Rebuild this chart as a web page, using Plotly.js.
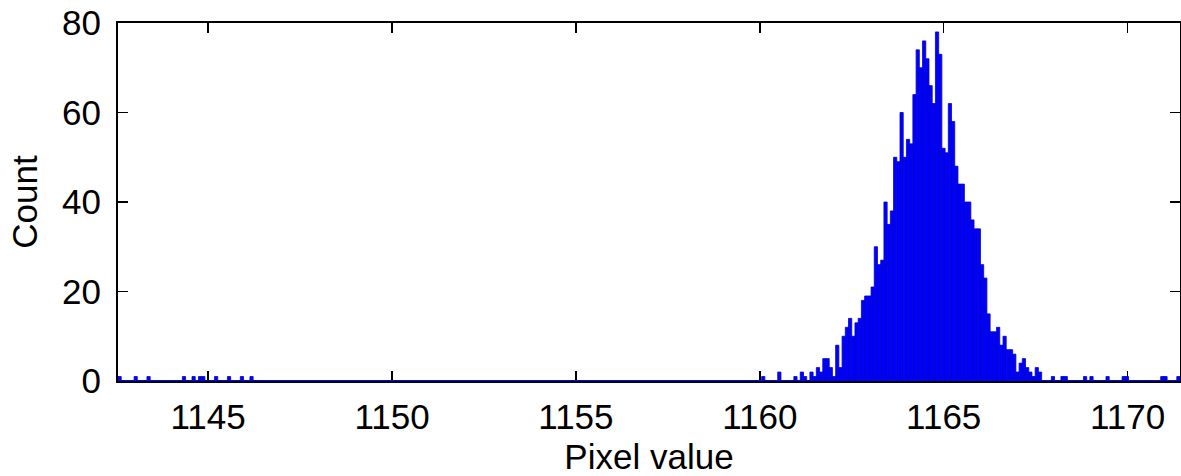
<!DOCTYPE html>
<html>
<head>
<meta charset="utf-8">
<script src="https://cdn.plot.ly/plotly-3.0.1.min.js"></script>
<style>
  html, body { margin: 0; padding: 0; background: #ffffff; }
  #chart { width: 1181px; height: 476px; }
</style>
</head>
<body>
<div id="chart"></div>
<script>
// Histogram bins with non-zero counts (bin centre pixel value, count)
const pixelValues = [
  1142.594, 1143.031, 1143.381, 1144.344, 1144.606, 1144.781, 1144.869, 1145.219, 1145.569, 1145.919, 1146.181,
  1160.094, 1160.531, 1160.969, 1161.144, 1161.231, 1161.406, 1161.494, 1161.581, 1161.669, 1161.756,
  1161.844, 1161.931, 1162.019, 1162.106, 1162.194, 1162.281, 1162.369, 1162.456, 1162.544, 1162.631,
  1162.719, 1162.806, 1162.894, 1162.981, 1163.069, 1163.156, 1163.244, 1163.331, 1163.419, 1163.506,
  1163.594, 1163.681, 1163.769, 1163.856, 1163.944, 1164.031, 1164.119, 1164.206, 1164.294, 1164.381,
  1164.469, 1164.556, 1164.644, 1164.731, 1164.819, 1164.906, 1164.994, 1165.081, 1165.169, 1165.256,
  1165.344, 1165.431, 1165.519, 1165.606, 1165.694, 1165.781, 1165.869, 1165.956, 1166.044, 1166.131,
  1166.219, 1166.306, 1166.394, 1166.481, 1166.569, 1166.656, 1166.744, 1166.831, 1166.919, 1167.006,
  1167.094, 1167.181, 1167.269, 1167.356, 1167.444, 1167.531, 1167.619, 1167.969,
  1168.231, 1168.319, 1168.844, 1169.019, 1169.456, 1169.894, 1169.981, 1170.944, 1171.031, 1171.381
];
const counts = [
  1, 1, 1, 1, 1, 1, 1, 1, 1, 1, 1,
  1, 2, 1, 2, 1, 2, 1, 3, 2, 5,
  5, 3, 1, 8, 3, 10, 12, 14, 10, 13,
  14, 18, 19, 19, 21, 30, 26, 27, 40, 35,
  38, 50, 49, 60, 50, 54, 53, 64, 74, 70,
  76, 72, 66, 62, 78, 73, 52, 51, 62, 58,
  48, 44, 44, 40, 40, 36, 34, 34, 26, 23,
  15, 11, 11, 12, 8, 10, 7, 7, 6, 2,
  4, 5, 3, 2, 1, 3, 2, 1,
  1, 1, 1, 1, 1, 1, 1, 1, 1, 1
];
const xRange = [1142.55, 1171.425];
const yRange = [0, 80];
const xTicks = [1145, 1150, 1155, 1160, 1165, 1170];
const yTicks = [0, 20, 40, 60, 80];
const binWidth = 0.0875;

const fontFamily = 'Liberation Sans, Arial, Helvetica, sans-serif';

const traces = [
  {
    type: 'bar',
    x: pixelValues,
    y: counts,
    width: binWidth,
    marker: { color: '#0000ff', line: { color: '#0000c8', width: 0.8 } },
    cliponaxis: false,
    hoverinfo: 'x+y',
    showlegend: false
  },
  {
    // zero-count bins drawn as a flat baseline, as in the source histogram
    type: 'scatter',
    mode: 'lines',
    x: [xRange[0], xRange[1]],
    y: [0, 0],
    line: { color: '#0000ff', width: 2 },
    cliponaxis: false,
    hoverinfo: 'skip',
    showlegend: false
  }
];

const axisCommon = {
  showline: true, mirror: 'ticks', linecolor: '#000000', linewidth: 2,
  ticks: 'inside', ticklen: 10, tickwidth: 1.5, tickcolor: '#000000',
  showgrid: false, zeroline: false, layer: 'below traces',
  tickfont: { family: fontFamily, size: 35, color: '#000000' }
};

const layout = {
  width: 1181, height: 476,
  margin: { l: 118, r: 1, t: 23, b: 95, pad: 0 },
  paper_bgcolor: '#ffffff', plot_bgcolor: '#ffffff',
  bargap: 0,
  font: { family: fontFamily, color: '#000000' },
  xaxis: Object.assign({}, axisCommon, {
    range: xRange, tickvals: xTicks, ticktext: xTicks.map(String),
    ticklabelstandoff: 4,
    title: { text: 'Pixel value', font: { family: fontFamily, size: 35, color: '#000000' }, standoff: 10 }
  }),
  yaxis: Object.assign({}, axisCommon, {
    range: yRange, tickvals: yTicks, ticktext: yTicks.map(String),
    ticklabelstandoff: 8,
    title: { text: 'Count', font: { family: fontFamily, size: 35, color: '#000000' }, standoff: 14 }
  })
};

Plotly.newPlot('chart', traces, layout, { displayModeBar: false, staticPlot: true });
</script>
</body>
</html>
